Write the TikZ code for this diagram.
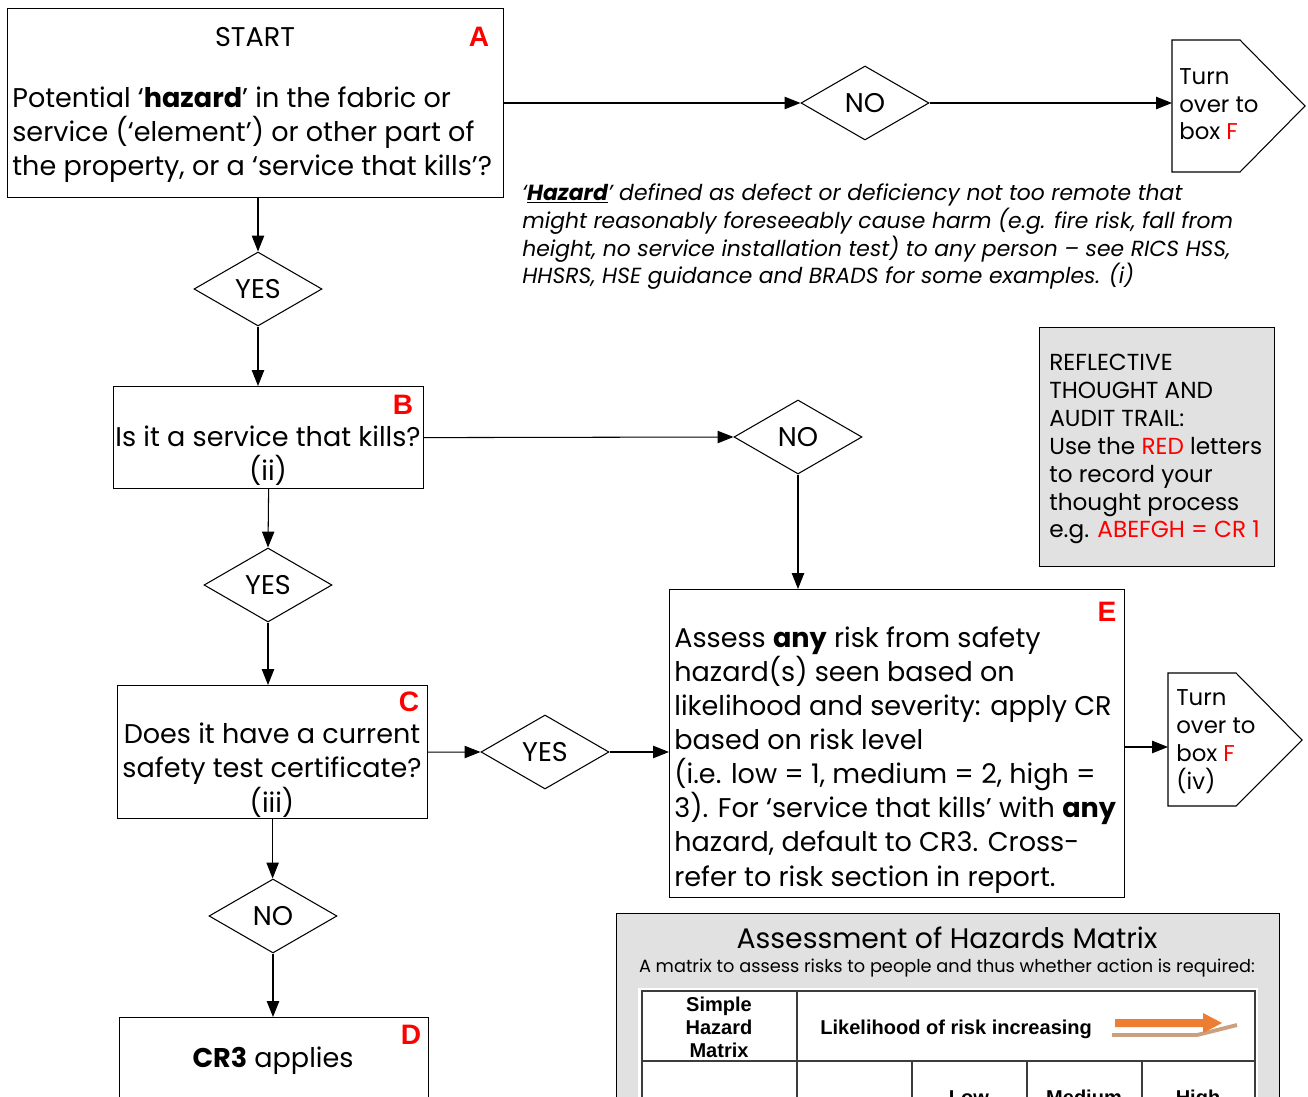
\documentclass[tikz,border=0pt]{standalone}
\usepackage{fontspec}
\setmainfont{Poppins}
\newfontfamily\arialfont{Liberation Sans}
\usetikzlibrary{arrows.meta}
\usetikzlibrary{shapes.geometric}

\definecolor{markred}{RGB}{255,0,0}
\definecolor{panelgrey}{RGB}{225,225,225}
\definecolor{tablegrey}{RGB}{60,60,60}
\definecolor{arroworange}{RGB}{237,125,49}
\definecolor{arrowtan}{RGB}{205,160,125}

\newcommand\mainsize{\fontsize{15.4}{19.4}\selectfont}
\newcommand\smallsize{\fontsize{13}{15.9}\selectfont}

\tikzset{
  box/.style={draw, line width=0.7pt, inner sep=0pt, anchor=north west},
  choice/.style={draw, diamond, aspect=1.73, line width=0.6pt, inner sep=0pt,
    minimum width=128*\u, minimum height=74*\u, font=\mainsize},
  flow/.style={line width=0.6pt, -{Triangle[length=9pt,width=7pt]}},
  redmark/.style={text=markred, font=\arialfont\bfseries\fontsize{16}{16}\selectfont, inner sep=0pt},
  para/.style={anchor=base west, align=left, inner sep=0pt, font=\mainsize},
  midpara/.style={anchor=base, align=center, inner sep=0pt, font=\mainsize},
  tablehead/.style={anchor=base, align=center, inner sep=0pt,
    font=\arialfont\bfseries\fontsize{11.4}{13}\selectfont}
}

\begin{document}
\begin{tikzpicture}[x=0.02cm, y=-0.02cm]
\def\u{0.02cm}
\useasboundingbox (0,0) rectangle (1308,1097);
\clip (0,0) rectangle (1308,1097);

\node (A) [box, minimum width=496*\u, minimum height=189*\u] at (7,8) {};
\node (startlbl) [midpara] at (255,47) {START};
\node (markA) [redmark] at (479,37) {A};
\node (Atext) [para] at (12,176) {Potential ‘\textbf{hazard}’ in the fabric or\\service (‘element’) or other part of\\the property, or a ‘service that kills’?};

\node (no1) [choice] at (865,103) {NO};
\draw [line width=0.6pt] (1172,40) -- (1240,40) -- (1305,106) -- (1240,172) -- (1172,172) -- cycle;
\coordinate (turnAin) at (1172,103);
\node (turnA) [para, font=\smallsize] at (1179,140) {Turn\\over to\\box \textcolor{markred}{F}};

\node (hazardnote) [para, font=\fontsize{12.45}{15.9}\selectfont\itshape] at (522,284) {‘\underline{\textbf{Hazard}}’ defined as defect or deficiency not too remote that\\might reasonably foreseeably cause harm (e.g. fire risk, fall from\\height, no service installation test) to any person -- see RICS HSS,\\HHSRS, HSE guidance and BRADS for some examples. (i)};

\node (yes1) [choice] at (258,289) {YES};

\node (B) [box, minimum width=310*\u, minimum height=102*\u] at (113,386) {};
\node (markB) [redmark] at (403,405) {B};
\node (Btext) [midpara] at (268,481) {Is it a service that kills?\\(ii)};

\node (no2) [choice] at (798,437) {NO};

\node (reflect) [box, fill=panelgrey, minimum width=235*\u, minimum height=239*\u] at (1039,327) {};
\node (reflecttext) [para, font=\fontsize{13.2}{15.9}\selectfont] at (1049,538) {REFLECTIVE\\THOUGHT AND\\AUDIT TRAIL:\\Use the \textcolor{markred}{RED} letters\\to record your\\thought process\\e.g. \textcolor{markred}{ABEFGH = CR 1}};

\node (yes2) [choice] at (268,585) {YES};

\node (C) [box, minimum width=310*\u, minimum height=133*\u] at (117,685) {};
\node (markC) [redmark] at (409,702) {C};
\node (Ctext) [midpara] at (272,812) {Does it have a current\\safety test certificate?\\(iii)};

\node (yes3) [choice] at (545,752) {YES};

\node (E) [box, minimum width=455*\u, minimum height=308*\u] at (669,589) {};
\node (markE) [redmark] at (1107,612) {E};
\node (Etext) [para] at (674,886) {Assess \textbf{any} risk from safety\\hazard(s) seen based on\\likelihood and severity: apply CR\\based on risk level\\(i.e. low = 1, medium = 2, high =\\3). For ‘service that kills’ with \textbf{any}\\hazard, default to CR3. Cross-\\refer to risk section in report.};

\draw [line width=0.6pt] (1168,673) -- (1236,673) -- (1302,740) -- (1236,806) -- (1168,806) -- cycle;
\coordinate (turnBin) at (1168,747);
\node (turnB) [para, font=\smallsize] at (1176,789) {Turn\\over to\\box \textcolor{markred}{F}\\(iv)};

\node (no3) [choice] at (273,916) {NO};

\node (D) [box, minimum width=309*\u, minimum height=200*\u] at (119,1017) {};
\node (markD) [redmark] at (411,1035) {D};
\node (Dtext) [midpara] at (273,1067) {\textbf{CR3} applies};

\node (hazmatrix) [box, fill=panelgrey, minimum width=663*\u, minimum height=300*\u] at (616,913) {};
\node (mtitle) [anchor=base, inner sep=0pt, font=\fontsize{16.1}{20}\selectfont] at (947,948) {Assessment of Hazards Matrix};
\node (msub) [anchor=base, inner sep=0pt, font=\fontsize{10.1}{12}\selectfont] at (947,972) {A matrix to assess risks to people and thus whether action is required:};
\fill [white] (638,988) rectangle (1258,1200);
\draw [tablegrey, line width=1.1pt] (642,991) rectangle (1255,1200);
\draw [tablegrey, line width=1.1pt] (642,1061) -- (1255,1061);
\draw [tablegrey, line width=1.1pt] (797,991) -- (797,1200);
\foreach \x in {912,1027,1142}
  \draw [tablegrey, line width=1.1pt] (\x,1061) -- (\x,1200);
\node (simple) [tablehead] at (719,1057) {Simple\\Hazard\\Matrix};
\node (likely) [tablehead, anchor=base west] at (820,1034) {Likelihood of risk increasing};
\node (low) [tablehead] at (969,1104) {Low};
\node (medium) [tablehead] at (1084,1104) {Medium};
\node (high) [tablehead] at (1198,1104) {High};
\draw [arrowtan, line width=2.2pt] (1112,1035) -- (1197,1035) -- (1237,1025);
\fill [arroworange] (1115,1019) -- (1203,1019) -- (1203,1013) -- (1222,1023) -- (1203,1033) -- (1203,1027) -- (1115,1027) -- cycle;

\draw [flow] (A.east |- no1) -- (no1.west);
\draw [flow] (no1.east) -- (turnAin);
\draw [flow] (A.south -| yes1) -- (yes1.north);
\draw [flow] (yes1.south) -- (yes1.south |- B.north);
\draw [flow] (B.east) -- (no2.west);
\draw [flow] (no2.south) -- (no2.south |- E.north);
\draw [flow] (B.south) -- (yes2.north);
\draw [flow] (yes2.south) -- (yes2.south |- C.north);
\draw [flow] (C.east) -- (yes3.west);
\draw [flow] (yes3.east) -- (yes3.east -| E.west);
\draw [flow] (E.east |- turnBin) -- (turnBin);
\draw [flow] (C.south) -- (C.south |- no3.north);
\draw [flow] (no3.south) -- (no3.south |- D.north);
\end{tikzpicture}
\end{document}
